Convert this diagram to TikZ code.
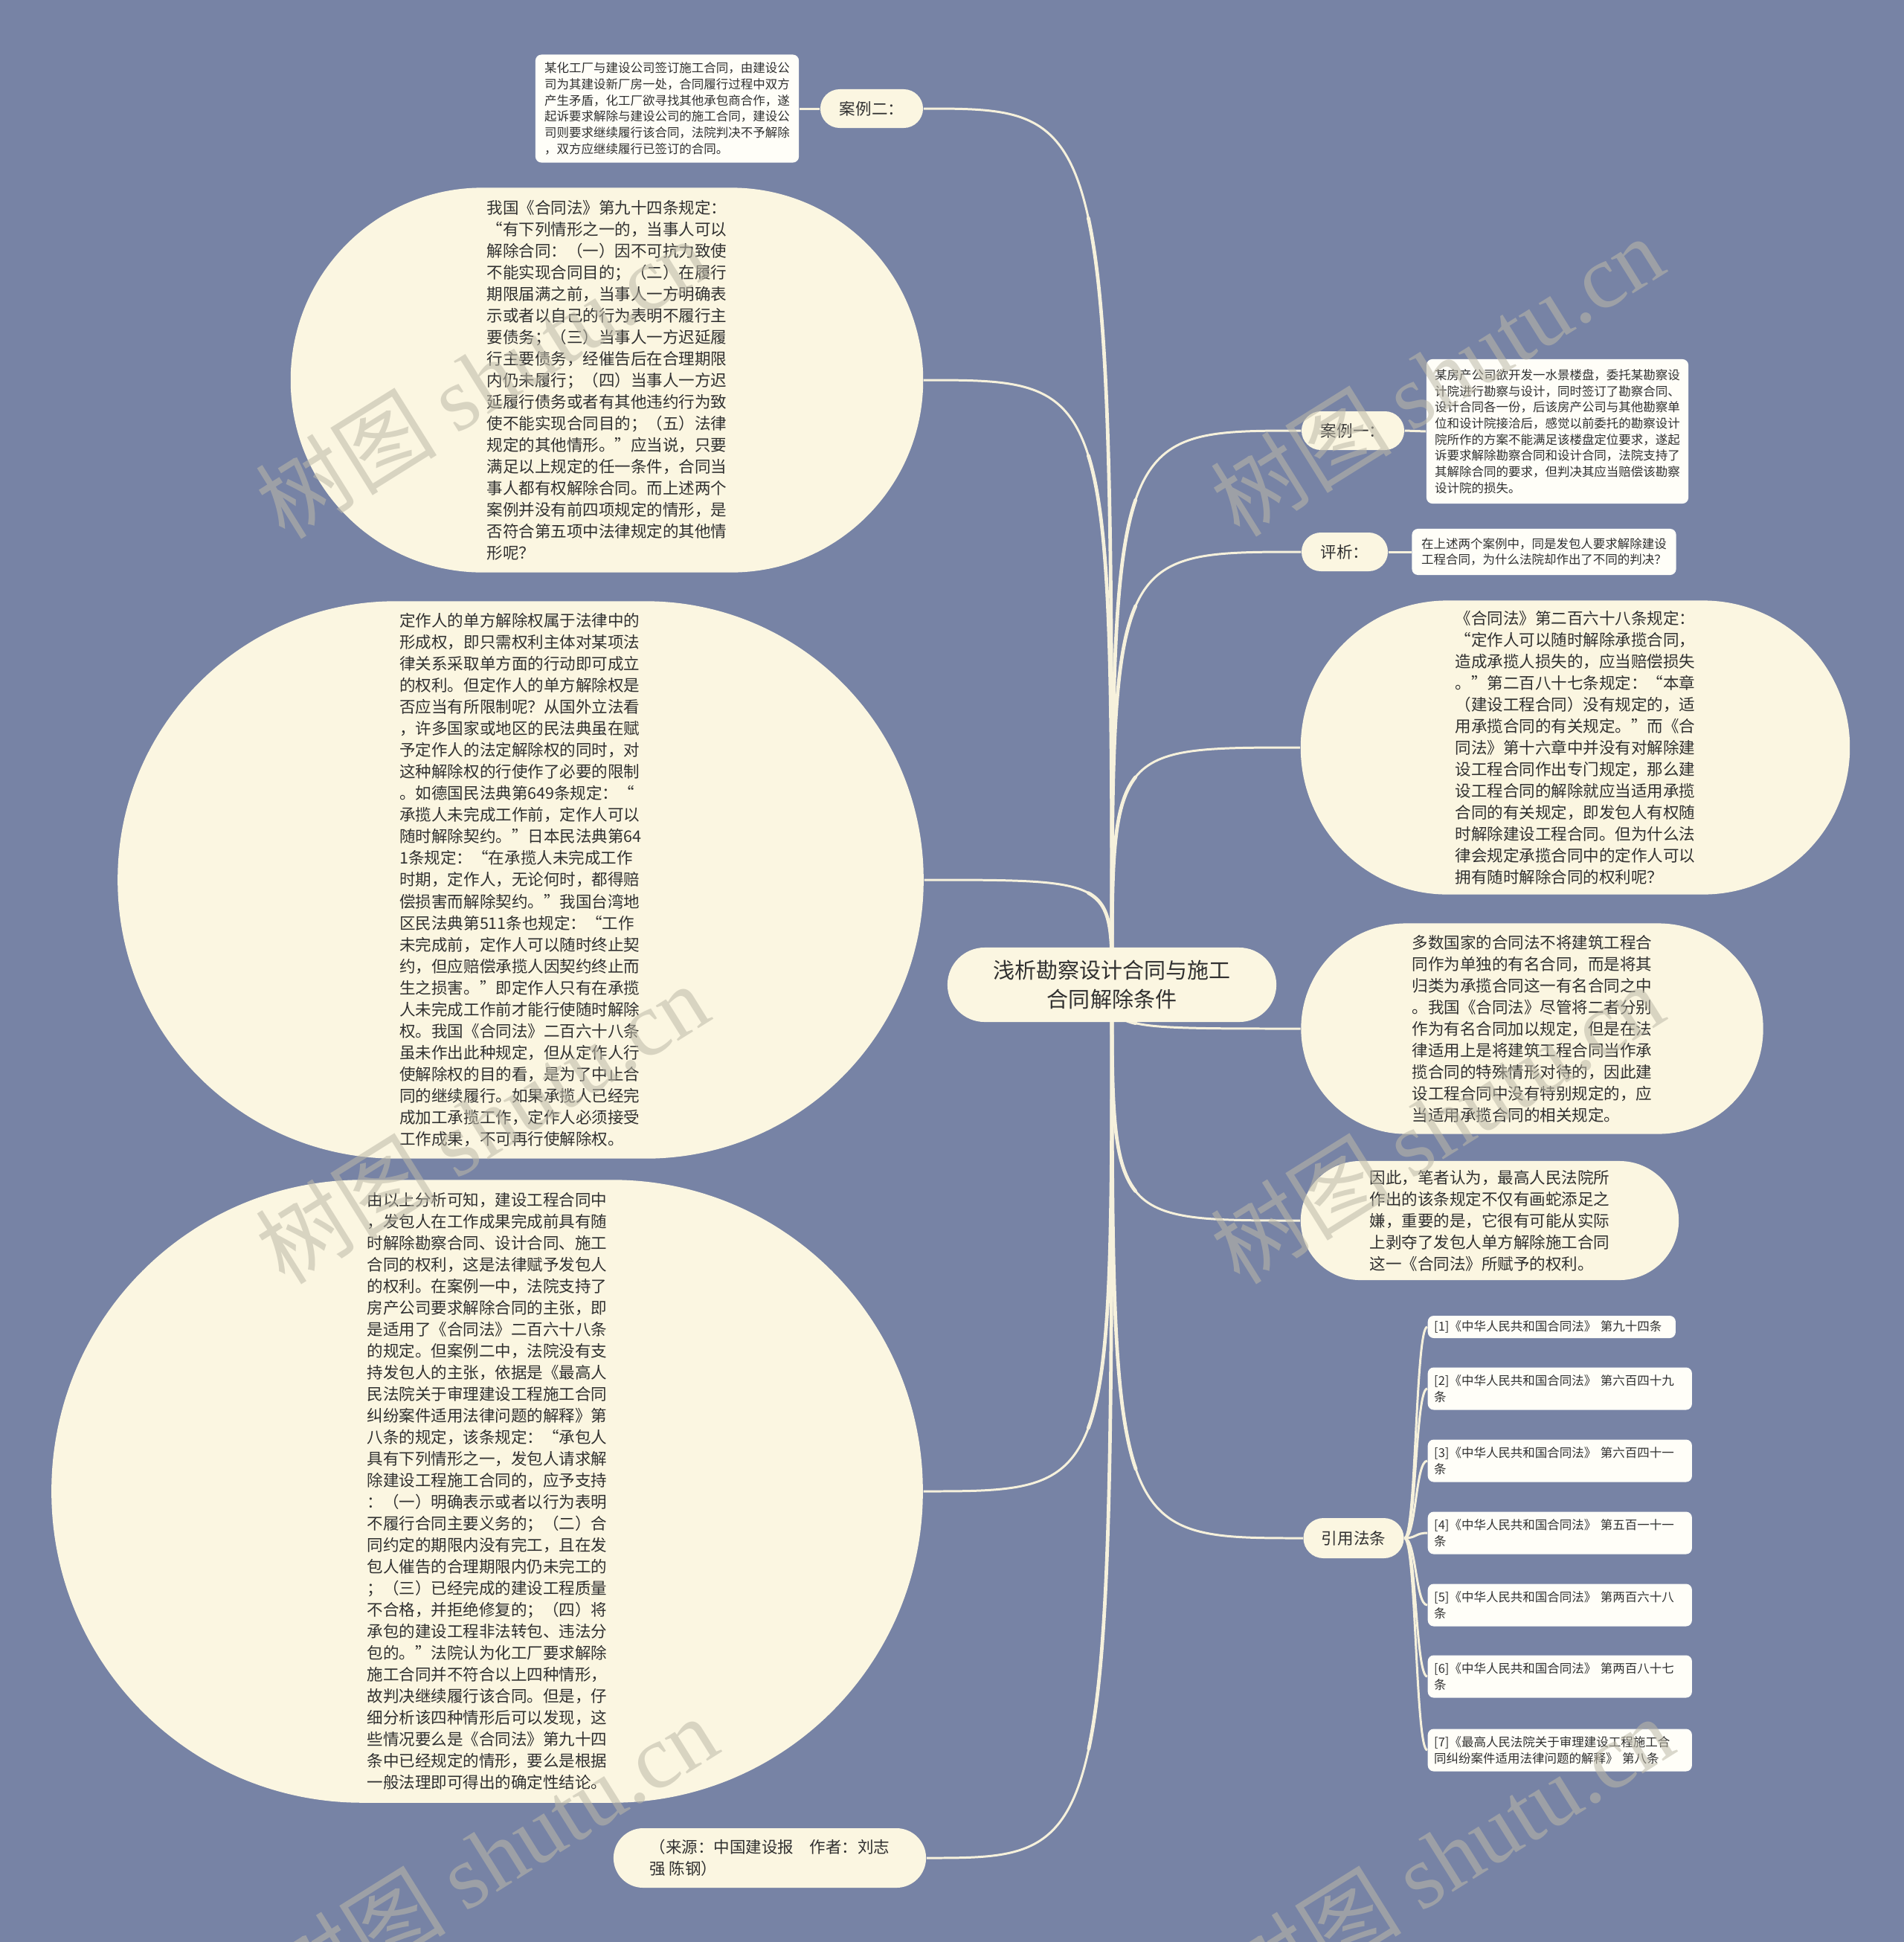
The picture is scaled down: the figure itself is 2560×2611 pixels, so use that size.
\documentclass[tikz,border=0pt]{standalone}
\usepackage{fontspec}
\setmainfont{Noto Sans CJK SC}
\newfontfamily\wmlatin{Liberation Serif}
\usetikzlibrary{calc}
\pgfdeclarelayer{back}
\pgfdeclarelayer{lines}
\pgfsetlayers{back,lines,main}
\definecolor{bgc}{HTML}{7783A5}
\definecolor{cream}{HTML}{FBF6E1}
\definecolor{notec}{HTML}{FFFEF8}
\definecolor{linec}{HTML}{F6F1DC}
\definecolor{txtc}{HTML}{303030}
\definecolor{wmc}{HTML}{BDB9A8}
\tikzset{
  pill/.style n args={2}{rectangle, fill=cream, minimum width=#1, minimum height=#2, rounded corners=0.499*#2, inner sep=0pt, text=txtc},
  notebox/.style n args={2}{rectangle, fill=notec, minimum width=#1, minimum height=#2, rounded corners=0.08cm, inner sep=0pt, text=txtc},
  bigtxt/.style={font=\fontsize{6.12pt}{8.25pt}\selectfont, align=left},
  smalltxt/.style={font=\fontsize{4.69pt}{6.17pt}\selectfont, align=left},
  labtxt/.style={font=\fontsize{6.12pt}{8.25pt}\selectfont},
  roottxt/.style={font=\fontsize{8.25pt}{11.1pt}\selectfont, align=center},
  conn/.style={draw=linec, line width=0.85pt},
  connthick/.style={draw=linec, line width=1.35pt, line cap=round},
  refbox/.style={rectangle, fill=notec, rounded corners=0.08cm, anchor=west, inner xsep=0.085cm, inner ysep=0pt, text=txtc, align=left, font=\fontsize{4.69pt}{6.17pt}\selectfont},
  wmark/.style={rotate=32, text=wmc, opacity=0.55, font=\fontsize{34.7pt}{40pt}\selectfont},
}
\begin{document}
\begin{tikzpicture}[x=0.01cm,y=-0.01cm]
\useasboundingbox (0,0) rectangle (2560,2611);
\begin{pgfonlayer}{back}
\fill[bgc] (0,0) rectangle (2560,2611);
\end{pgfonlayer}

% root
\node[pill={4.42cm}{1.00cm}, roottxt] (root) at (1495,1324) {浅析勘察设计合同与施工\\合同解除条件};

% left side
\node[pill={1.38cm}{0.52cm}, labtxt] (case2lab) at (1172,146) {案例二：};
\node[notebox={3.54cm}{1.45cm}, smalltxt] (case2note) at (897,146) {某化工厂与建设公司签订施工合同，由建设公\\司为其建设新厂房一处，合同履行过程中双方\\产生矛盾，化工厂欲寻找其他承包商合作，遂\\起诉要求解除与建设公司的施工合同，建设公\\司则要求继续履行该合同，法院判决不予解除\\，双方应继续履行已签订的合同。};

\node[pill={8.50cm}{5.17cm}, bigtxt] (A) at (816,511) {我国《合同法》第九十四条规定：\\“有下列情形之一的，当事人可以\\解除合同：（一）因不可抗力致使\\不能实现合同目的；（二）在履行\\期限届满之前，当事人一方明确表\\示或者以自己的行为表明不履行主\\要债务；（三）当事人一方迟延履\\行主要债务，经催告后在合理期限\\内仍未履行；（四）当事人一方迟\\延履行债务或者有其他违约行为致\\使不能实现合同目的；（五）法律\\规定的其他情形。”应当说，只要\\满足以上规定的任一条件，合同当\\事人都有权解除合同。而上述两个\\案例并没有前四项规定的情形，是\\否符合第五项中法律规定的其他情\\形呢？};

\node[pill={10.83cm}{7.49cm}, bigtxt] (B) at (700,1183) {定作人的单方解除权属于法律中的\\形成权，即只需权利主体对某项法\\律关系采取单方面的行动即可成立\\的权利。但定作人的单方解除权是\\否应当有所限制呢？从国外立法看\\，许多国家或地区的民法典虽在赋\\予定作人的法定解除权的同时，对\\这种解除权的行使作了必要的限制\\。如德国民法典第649条规定：“\\承揽人未完成工作前，定作人可以\\随时解除契约。”日本民法典第64\\1条规定：“在承揽人未完成工作\\时期，定作人，无论何时，都得赔\\偿损害而解除契约。”我国台湾地\\区民法典第511条也规定：“工作\\未完成前，定作人可以随时终止契\\约，但应赔偿承揽人因契约终止而\\生之损害。”即定作人只有在承揽\\人未完成工作前才能行使随时解除\\权。我国《合同法》二百六十八条\\虽未作出此种规定，但从定作人行\\使解除权的目的看，是为了中止合\\同的继续履行。如果承揽人已经完\\成加工承揽工作，定作人必须接受\\工作成果，不可再行使解除权。};

\node[pill={11.71cm}{8.37cm}, bigtxt] (C) at (655,2005) {由以上分析可知，建设工程合同中\\，发包人在工作成果完成前具有随\\时解除勘察合同、设计合同、施工\\合同的权利，这是法律赋予发包人\\的权利。在案例一中，法院支持了\\房产公司要求解除合同的主张，即\\是适用了《合同法》二百六十八条\\的规定。但案例二中，法院没有支\\持发包人的主张，依据是《最高人\\民法院关于审理建设工程施工合同\\纠纷案件适用法律问题的解释》第\\八条的规定，该条规定：“承包人\\具有下列情形之一，发包人请求解\\除建设工程施工合同的，应予支持\\：（一）明确表示或者以行为表明\\不履行合同主要义务的；（二）合\\同约定的期限内没有完工，且在发\\包人催告的合理期限内仍未完工的\\；（三）已经完成的建设工程质量\\不合格，并拒绝修复的；（四）将\\承包的建设工程非法转包、违法分\\包的。”法院认为化工厂要求解除\\施工合同并不符合以上四种情形，\\故判决继续履行该合同。但是，仔\\细分析该四种情形后可以发现，这\\些情况要么是《合同法》第九十四\\条中已经规定的情形，要么是根据\\一般法理即可得出的确定性结论。};

\node[pill={4.20cm}{0.80cm}, bigtxt] (src) at (1035,2498) {（来源：中国建设报　作者：刘志\\强 陈钢）};

% right side
\node[pill={1.38cm}{0.52cm}, labtxt] (case1lab) at (1819,579) {案例一：};
\node[notebox={3.52cm}{1.94cm}, smalltxt] (case1note) at (2094,580) {某房产公司欲开发一水景楼盘，委托某勘察设\\计院进行勘察与设计，同时签订了勘察合同、\\设计合同各一份，后该房产公司与其他勘察单\\位和设计院接洽后，感觉以前委托的勘察设计\\院所作的方案不能满足该楼盘定位要求，遂起\\诉要求解除勘察合同和设计合同，法院支持了\\其解除合同的要求，但判决其应当赔偿该勘察\\设计院的损失。};

\node[pill={1.16cm}{0.52cm}, labtxt] (pxlab) at (1808,742) {评析：};
\node[notebox={3.55cm}{0.62cm}, smalltxt] (pxnote) at (2076,742) {在上述两个案例中，同是发包人要求解除建设\\工程合同，为什么法院却作出了不同的判决？};

\node[pill={7.38cm}{3.95cm}, bigtxt] (D) at (2118,1005) {《合同法》第二百六十八条规定：\\“定作人可以随时解除承揽合同，\\造成承揽人损失的，应当赔偿损失\\。”第二百八十七条规定：“本章\\（建设工程合同）没有规定的，适\\用承揽合同的有关规定。”而《合\\同法》第十六章中并没有对解除建\\设工程合同作出专门规定，那么建\\设工程合同的解除就应当适用承揽\\合同的有关规定，即发包人有权随\\时解除建设工程合同。但为什么法\\律会规定承揽合同中的定作人可以\\拥有随时解除合同的权利呢？};

\node[pill={6.21cm}{2.83cm}, bigtxt] (E) at (2060,1383) {多数国家的合同法不将建筑工程合\\同作为单独的有名合同，而是将其\\归类为承揽合同这一有名合同之中\\。我国《合同法》尽管将二者分别\\作为有名合同加以规定，但是在法\\律适用上是将建筑工程合同当作承\\揽合同的特殊情形对待的，因此建\\设工程合同中没有特别规定的，应\\当适用承揽合同的相关规定。};

\node[pill={5.08cm}{1.60cm}, bigtxt] (F) at (2003,1641) {因此，笔者认为，最高人民法院所\\作出的该条规定不仅有画蛇添足之\\嫌，重要的是，它很有可能从实际\\上剥夺了发包人单方解除施工合同\\这一《合同法》所赋予的权利。};

\node[pill={1.35cm}{0.54cm}, labtxt] (reflab) at (1820,2068) {引用法条};

\node[refbox, text width=3.16cm, minimum height=0.30cm] (r1) at (1919,1784) {[1]《中华人民共和国合同法》 第九十四条};
\node[refbox, text width=3.38cm, minimum height=0.57cm] (r2) at (1919,1867) {[2]《中华人民共和国合同法》 第六百四十九\\条};
\node[refbox, text width=3.38cm, minimum height=0.57cm] (r3) at (1919,1964) {[3]《中华人民共和国合同法》 第六百四十一\\条};
\node[refbox, text width=3.38cm, minimum height=0.57cm] (r4) at (1919,2061) {[4]《中华人民共和国合同法》 第五百一十一\\条};
\node[refbox, text width=3.38cm, minimum height=0.57cm] (r5) at (1919,2158) {[5]《中华人民共和国合同法》 第两百六十八\\条};
\node[refbox, text width=3.38cm, minimum height=0.57cm] (r6) at (1919,2254) {[6]《中华人民共和国合同法》 第两百八十七\\条};
\node[refbox, text width=3.38cm, minimum height=0.57cm] (r7) at (1919,2353) {[7]《最高人民法院关于审理建设工程施工合\\同纠纷案件适用法律问题的解释》 第八条};

% connectors (thin full curve + thicker first half near the root)
\begin{pgfonlayer}{lines}
\foreach \n in {case2lab, A, B, C, src} {
  \draw[conn] (root.center) .. controls (root.center |- \n.east) .. (\n.east);
  \coordinate (k) at (root.center |- \n.east);
  \draw[connthick] (root.center) .. controls ($(root.center)!0.5!(k)$) and ($(root.center)!0.75!(k)$) .. ($0.125*(root.center)+0.75*(k)+0.125*(\n.east)$);
}
\foreach \n in {case1lab, pxlab, D, E, F, reflab} {
  \draw[conn] (root.center) .. controls (root.center |- \n.west) .. (\n.west);
  \coordinate (k) at (root.center |- \n.west);
  \draw[connthick] (root.center) .. controls ($(root.center)!0.5!(k)$) and ($(root.center)!0.75!(k)$) .. ($0.125*(root.center)+0.75*(k)+0.125*(\n.west)$);
}
\draw[conn] (case2lab.west) -- (case2note.east);
\draw[conn] (case1lab.east) -- (case1note.west);
\draw[conn] (pxlab.east) -- (pxnote.west);
\foreach \n in {r1, r2, r3, r4, r5, r6, r7}
  \draw[conn] (reflab.east) .. controls ($(reflab.east)+(16,0)$) and ($(\n.west)+(-16,0)$) .. (\n.west);
\end{pgfonlayer}

% watermarks
\node[wmark] (wm1) at (648,508) {树图 {\wmlatin shutu.cn}};
\node[wmark] (wm2) at (1932,505) {树图 {\wmlatin shutu.cn}};
\node[wmark] (wm3) at (648,1510) {树图 {\wmlatin shutu.cn}};
\node[wmark] (wm4) at (1932,1510) {树图 {\wmlatin shutu.cn}};
\node[wmark] (wm5) at (660,2495) {树图 {\wmlatin shutu.cn}};
\node[wmark] (wm6) at (1945,2495) {树图 {\wmlatin shutu.cn}};
\end{tikzpicture}
\end{document}
